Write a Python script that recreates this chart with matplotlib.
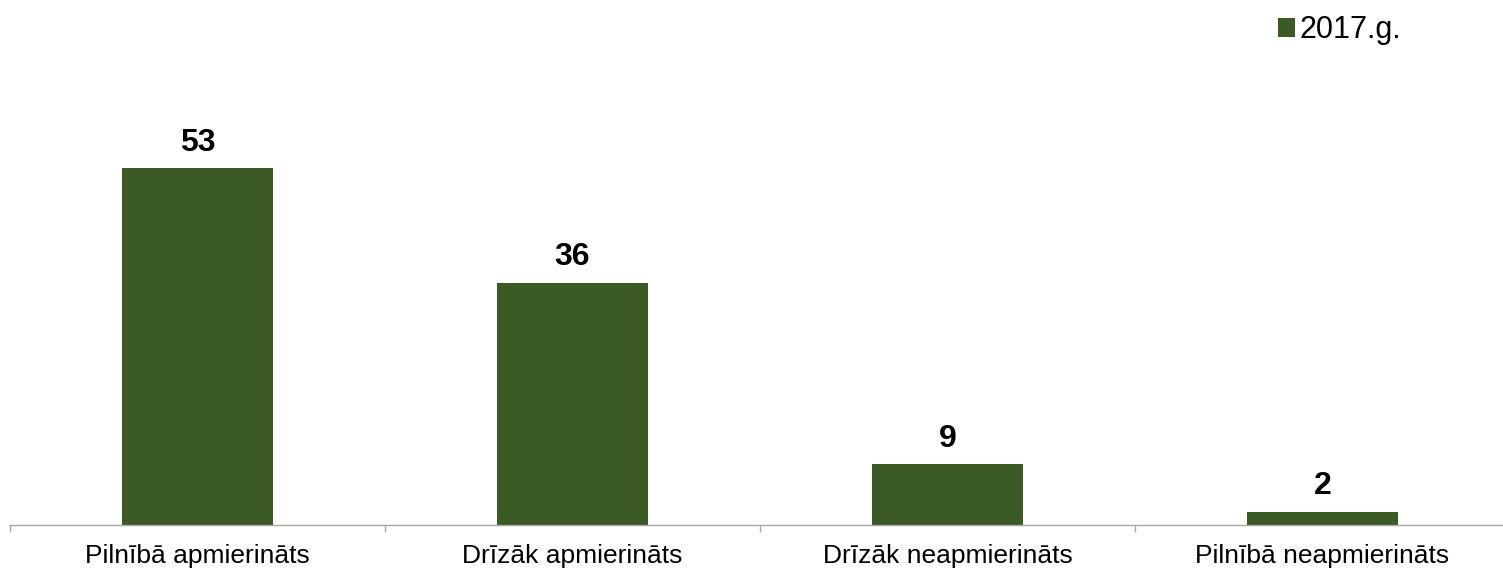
import matplotlib
matplotlib.use("Agg")
import matplotlib.pyplot as plt
import numpy as np

categories = ["Pilnībā apmierināts", "Drīzāk apmierināts", "Drīzāk neapmierināts", "Pilnībā neapmierināts"]
values_2017 = [53, 36, 9, 2]
series_name = "2017.g."

plt.rcParams['font.family'] = ['Liberation Sans', 'DejaVu Sans']

W, H = 1503, 571
fig = plt.figure(figsize=(W / 100, H / 100), dpi=100)
left_px, right_px = 10, 1510
bottom_px, top_px = 525, 60
ax = fig.add_axes([left_px / W, 1 - bottom_px / H, (right_px - left_px) / W, (bottom_px - top_px) / H])

color = "#3C5A25"
x = np.arange(len(categories))
bars = ax.bar(x, values_2017, width=0.403, color=color, label=series_name)

ax.set_xlim(-0.5, len(categories) - 0.5)
ax.set_ylim(0, (bottom_px - top_px) / (357 / 53))

for xi, v in zip(x, values_2017):
    ax.annotate(str(v), (xi, v), xytext=(0, 7.5), textcoords="offset points",
                ha="center", va="bottom", fontsize=23, fontweight="bold", color="black")

ax.set_xticks(x)
ax.set_xticklabels(categories, fontsize=19)
ax.tick_params(axis="x", which="major", length=0, pad=14)
ax.set_xticks(np.arange(-0.5, len(categories) + 0.5, 1), minor=True)
ax.tick_params(axis="x", which="minor", length=5, color="#A6A6A6", width=1)
ax.set_yticks([])
for s in ["top", "right", "left"]:
    ax.spines[s].set_visible(False)
ax.spines["bottom"].set_color("#A6A6A6")
ax.spines["bottom"].set_linewidth(1)

leg = fig.legend(handles=[bars], labels=[series_name], loc="upper left",
                 bbox_to_anchor=(1266 / W, 1 - 3 / H), frameon=False, fontsize=22,
                 handlelength=0.55, handleheight=0.55, handletextpad=0.15, borderaxespad=0)

fig.savefig("out.png", dpi=100)
